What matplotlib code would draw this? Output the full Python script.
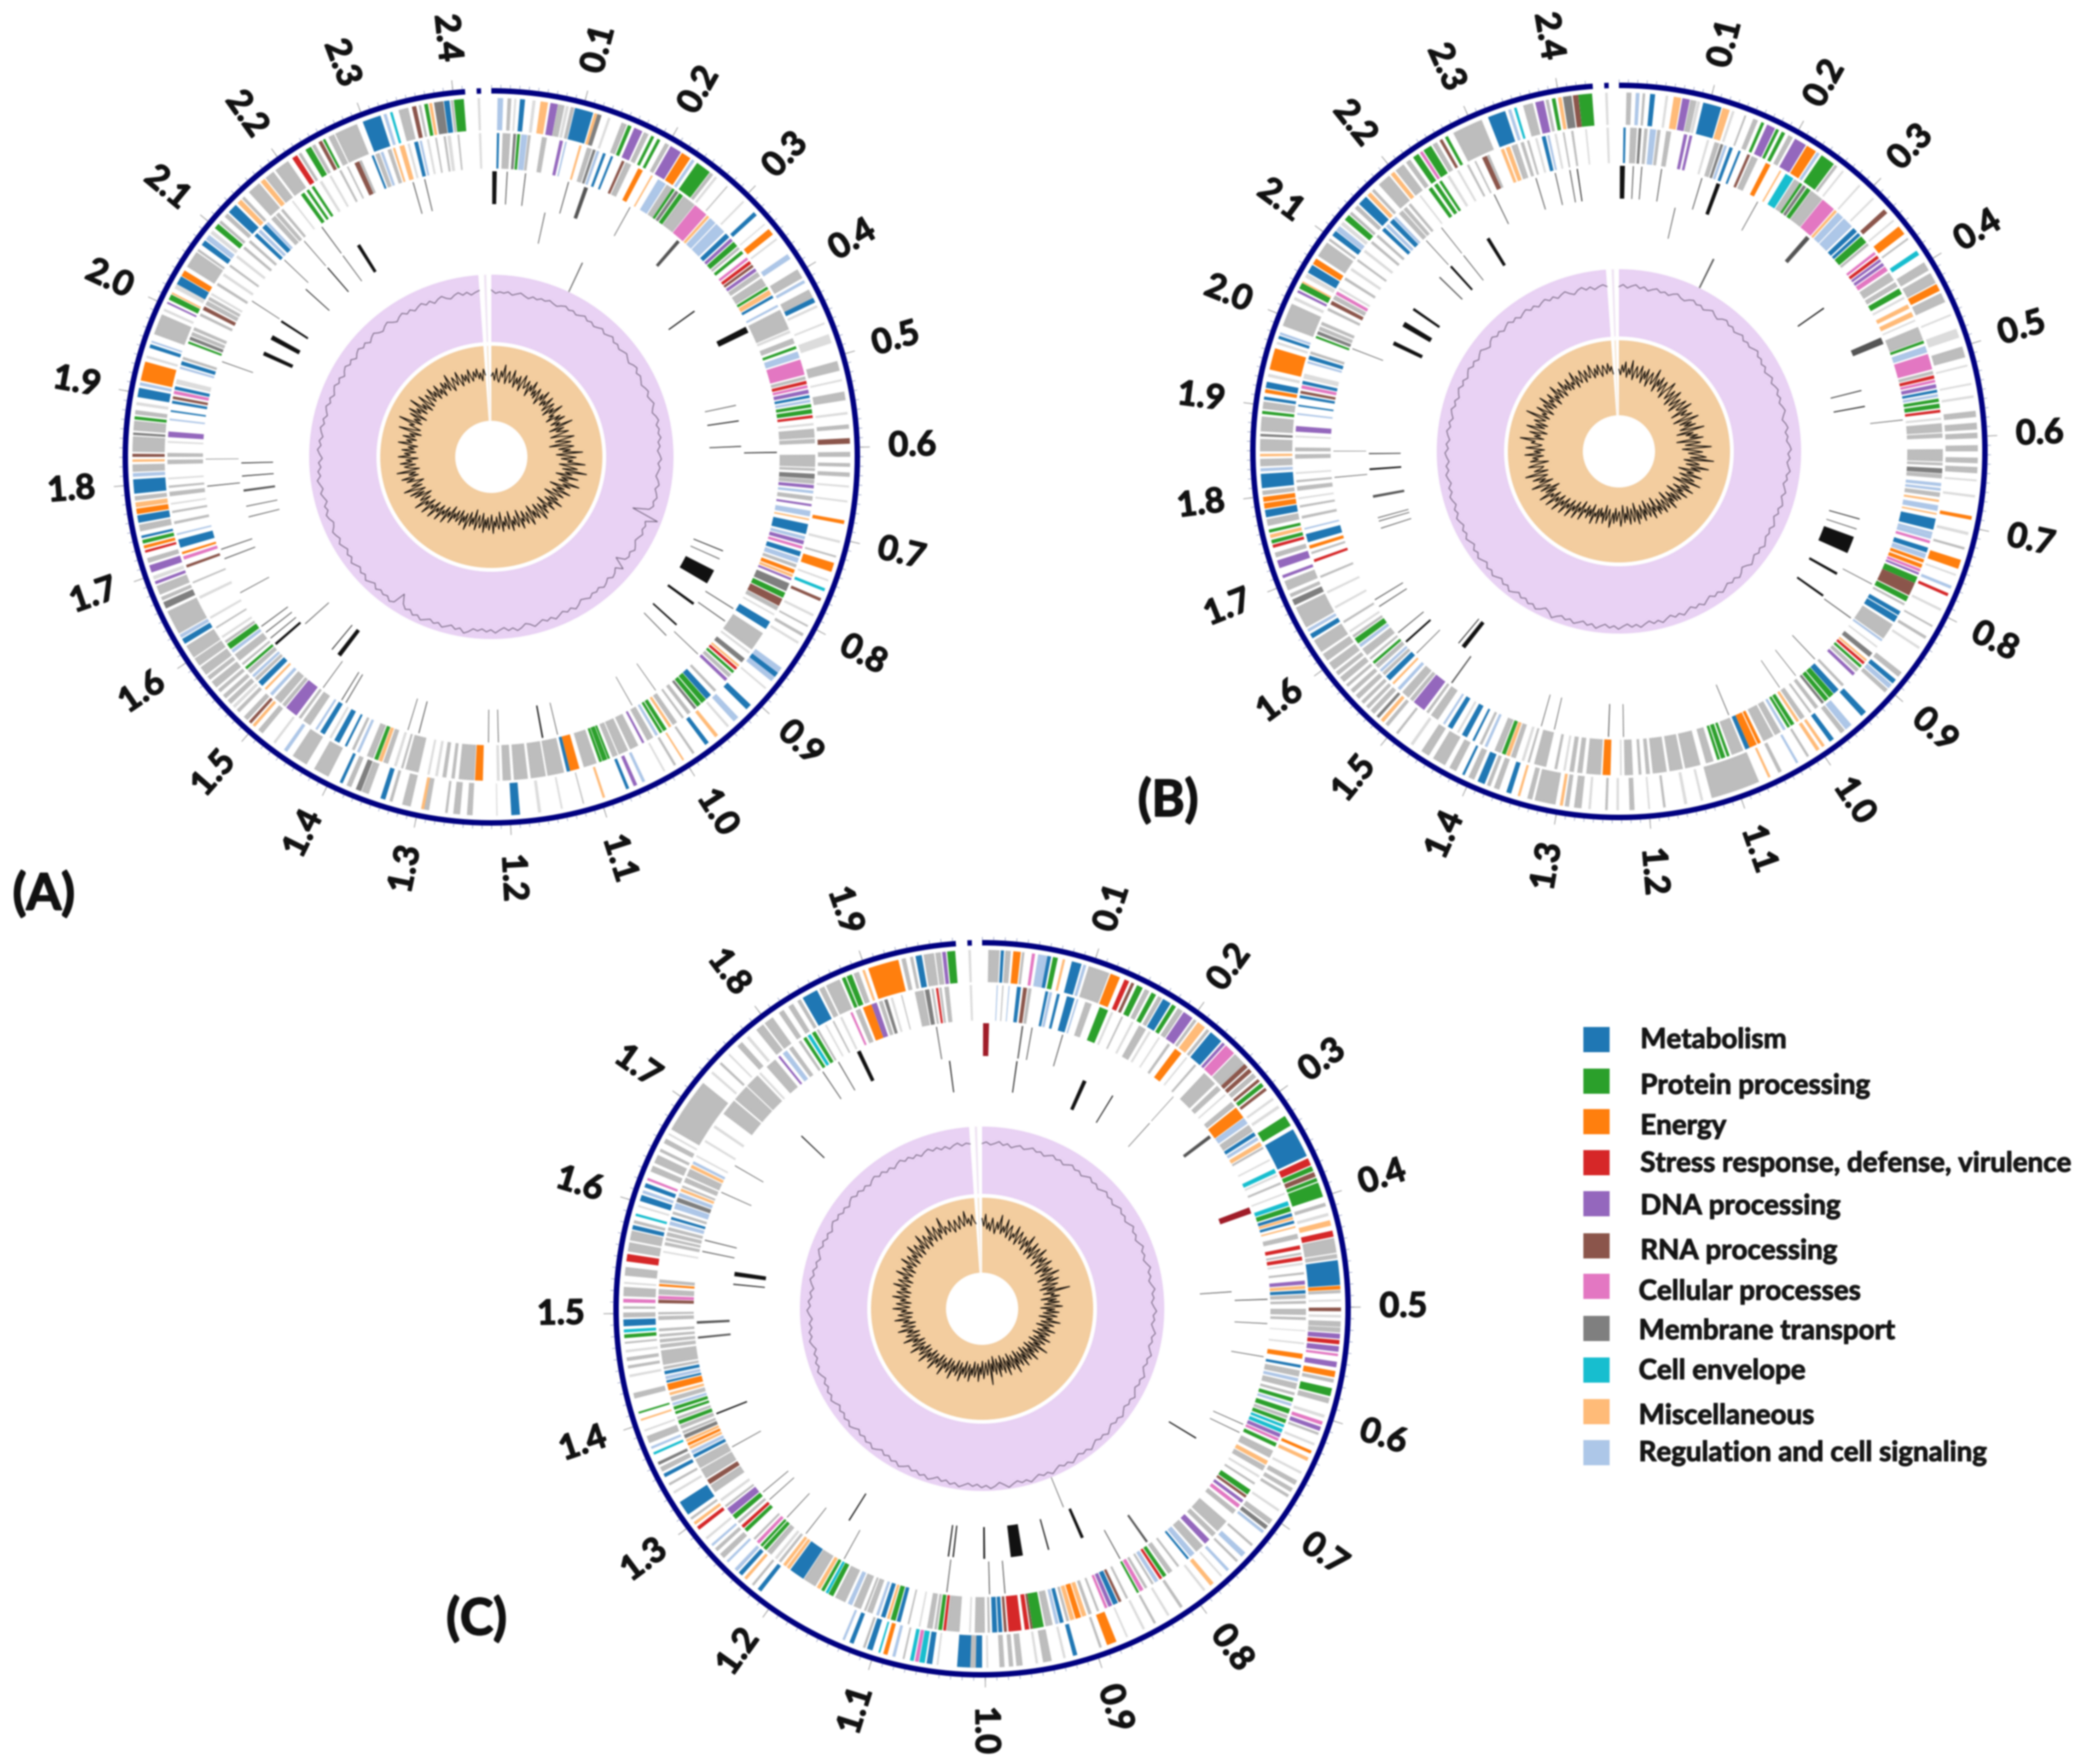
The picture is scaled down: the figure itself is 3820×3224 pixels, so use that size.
import numpy as np
import matplotlib
matplotlib.use('Agg')
import matplotlib.pyplot as plt
import matplotlib.patheffects as pe
from matplotlib.patches import Rectangle

plt.rcParams['font.family'] = ['Lato', 'DejaVu Sans']

W, H = 3820, 3224
END = 355.9      # map closes here, the rest is the gap at 12 o'clock

legend_names = ['Metabolism', 'Protein processing', 'Energy', 'Stress response, defense, virulence',
                'DNA processing', 'RNA processing', 'Cellular processes', 'Membrane transport',
                'Cell envelope', 'Miscellaneous', 'Regulation and cell signaling']
legend_keys = ['b', 'g', 'o', 'r', 'p', 'n', 'k', 'm', 'c', 'y', 'l']
colors = {'b': '#1f77b4', 'g': '#2ca02c', 'o': '#ff7f0e', 'r': '#d62728', 'p': '#9467bd', 'n': '#8c564b',
          'k': '#e377c2', 'm': '#7f7f7f', 'c': '#17becf', 'y': '#ffbb78', 'l': '#aec7e8', 'h': '#bdbdbd',
          't': '#dcdcdc', 'K': '#111111', 'G': '#555555', 'R': '#a01c28'}

a_mb = [0.1, 0.2, 0.3, 0.4, 0.5, 0.6, 0.7, 0.8, 0.9, 1.0, 1.1, 1.2, 1.3, 1.4, 1.5, 1.6, 1.7, 1.8, 1.9, 2.0, 2.1, 2.2, 2.3, 2.4]
b_mb = a_mb
c_mb = a_mb[:19]
a_deg_per_mb = 147.5
b_deg_per_mb = 146.0
c_deg_per_mb = 179.5

# gene rings: (map degree, width in degrees, functional class)
a_outer = [(1.0,.9,'l'),(2.6,.6,'h'),(3.7,.3,'t'),(4.6,.8,'b'),(6.6,.5,'t'),(7.9,1.2,'y'),(9.5,1.2,'p'),(10.7,1.1,'h'),(12,.5,'t'),(12.8,.6,'h'),
 (13.5,3,'b'),(16.7,.5,'y'),(17.2,.7,'m'),(19,.4,'t'),(21.3,.9,'h'),(22.4,.6,'g'),(23.5,1.4,'p'),(25.2,.8,'h'),(26.5,.5,'g'),(27.6,.5,'g'),(29,.7,'h'),
 (30,1.9,'p'),(32.1,1.6,'o'),(34,.5,'l'),(35,2.5,'g'),(37.6,.6,'h'),(38.6,.4,'t'),(41,.2,'h'),(44.5,.3,'t'),(47,.7,'b'),(49.5,.2,'t'),(50.6,1.1,'o'),(52.5,.3,'t'),
 (55.6,.9,'l'),(58.5,1.6,'h'),(60.5,.5,'l'),(62.2,1.5,'h'),(63.7,.8,'b'),(65,.4,'t'),(68,.3,'t'),(70,1.5,'t'),(74.5,1.6,'h'),(77.5,.3,'t'),(79.5,1.4,'h'),
 (82.8,.4,'t'),(84.8,.7,'h'),(87,.9,'n'),(89.2,.8,'h'),(91,.6,'h'),(92.5,.7,'h'),(94.6,.3,'t'),(97,.3,'t'),(100.2,.6,'o'),(103.5,.4,'t'),(106,.3,'h'),(107.2,1.5,'o'),
 (110,.3,'t'),(111.5,.5,'c'),(113.2,.5,'n'),(116,.4,'t'),(118,.3,'h'),(119.5,.5,'h'),(121,.4,'t'),(126,2.7,'l'),(127,.8,'b'),(130,.3,'t'),(133.7,1,'b'),(136.5,1,'l'),
 (138.5,.4,'t'),(140.8,.6,'y'),(142.7,.7,'b'),(145.5,.4,'h'),(147.5,.3,'y'),(149,.4,'h'),(151,.3,'t'),(154.6,.5,'l'),(156,.6,'p'),(157.4,.5,'b'),(161.5,.4,'y'),
 (165,.2,'h'),(168.5,.3,'t'),(172,.5,'t'),(175.4,1.4,'b'),(179,.2,'t'),(183,.9,'h'),(185,1.1,'h'),(187,.4,'h'),(190,1.1,'h'),(190.8,.5,'y'),(193,1.4,'h'),(196,.5,'h'),(197.2,.8,'b'),
 (200,1.2,'h'),(201.3,.9,'m'),(203,.8,'h'),(204.5,.5,'b'),(207,2.6,'h'),(211,2.6,'h'),(214.7,.6,'l'),(217,.4,'t'),(219.6,.9,'h'),(221.2,.5,'y'),(222,.5,'n'),(222.8,.8,'h'),
 (224.6,.6,'h'),(225.6,.5,'t'),(226.5,.8,'h'),(227.7,.7,'h'),(229,.6,'h'),(230,1.2,'h'),(231.6,.7,'h'),(232.6,1.5,'h'),(234.4,1.4,'h'),(236,2.2,'h'),(238.6,.9,'b'),(239.7,.6,'l'),
 (240.5,4,'h'),(245,1.1,'m'),(246.4,.6,'h'),(247.4,1.5,'h'),(249.2,.5,'p'),(250,.6,'t'),(251.2,1.2,'p'),(252.8,.8,'h'),(254.5,.4,'r'),(255.2,.5,'o'),(256,.6,'g'),(256.9,.4,'b'),
 (258,1.1,'h'),(259.4,1.2,'b'),(260.8,.9,'o'),(261.9,.8,'y'),(263,.7,'h'),(264.1,2.3,'b'),(266.8,.6,'l'),(267.6,1.2,'h'),(269.2,.4,'y'),(270,.5,'n'),(270.8,2.5,'h'),(273.5,.4,'m'),
 (274.2,1.6,'h'),(276,.5,'g'),(276.8,.7,'h'),(278.3,.5,'t'),(279.6,1.5,'b'),(281.5,.5,'l'),(282.3,3.1,'o'),(286,.4,'t'),(287.7,.6,'b'),(288.6,.3,'l'),(290,3.4,'h'),(294,.4,'t'),(295.3,.3,'p'),
 (296,.9,'g'),(297,.3,'y'),(298,.9,'t'),(298.8,1.4,'b'),(300.3,1,'o'),(302,2.8,'h'),(305,.4,'h'),(306.2,.9,'b'),(307.3,.9,'l'),(308.5,.6,'t'),(309.6,.9,'g'),(310.7,.5,'h'),(312,.7,'h'),
 (313,1.6,'b'),(315,.8,'y'),(316,.5,'h'),(317.5,2.2,'h'),(320,.8,'y'),(321,1.6,'h'),(323,2.5,'h'),(326.3,.9,'r'),(327.5,.5,'h'),(328.8,1,'g'),(330,.6,'h'),(331.2,.6,'n'),(332,.4,'g'),
 (333,1,'h'),(334.2,3.8,'h'),(339,3,'b'),(342.5,.5,'l'),(343.6,.4,'c'),(345,1.6,'h'),(347.2,.7,'n'),(348.3,.4,'h'),(349.2,.6,'g'),(350,.5,'y'),(350.8,1.5,'m'),(352.4,.9,'b'),(353.5,.4,'h'),(354,1.6,'g')]
a_inner = [(1,.4,'b'),(2,1.4,'h'),(3.9,.5,'m'),(4.6,.5,'g'),(5.3,1.1,'l'),(6.5,.5,'h'),(9,.9,'h'),(12.2,.6,'p'),(13.2,.3,'l'),(15.8,.4,'y'),(17.2,.9,'h'),(18.3,.5,'m'),(19,.5,'l'),
 (20.2,.5,'b'),(21.7,.4,'b'),(23.8,.5,'n'),(24.5,1.1,'h'),(27,.9,'o'),(29.6,.3,'y'),(31,1.6,'l'),(32.8,1.2,'h'),(34,.5,'g'),(34.7,.6,'m'),(35.5,.8,'g'),(36.4,2.5,'h'),(39,2.6,'k'),
 (41.8,.5,'y'),(42.5,1.3,'l'),(44,2,'l'),(46.4,.9,'b'),(47.6,.6,'p'),(48.4,1,'g'),(49.6,.5,'h'),(50.5,.6,'g'),(52,.5,'k'),(52.8,.6,'r'),(53.6,.5,'n'),(54.4,.6,'p'),(55.2,.9,'h'),(56.5,1.6,'h'),
 (58.3,.5,'g'),(59,.9,'y'),(60.1,.5,'b'),(62,.4,'l'),(63,3.8,'h'),(67,.5,'t'),(68.5,1,'h'),(70,.5,'g'),(71,1.2,'l'),(72.5,2.8,'k'),(75.6,.6,'h'),(76.4,.6,'r'),(77.2,.5,'k'),(78,.7,'p'),(79,.5,'b'),
 (79.8,.5,'l'),(80.6,.6,'g'),(81.5,.8,'g'),(82.6,.5,'r'),(84,.4,'t'),(85,1.6,'h'),(86.8,.8,'h'),(89.6,2.2,'h'),(92,.5,'h'),(93,.9,'m'),(94,.8,'h'),(95,.6,'p'),(96,.5,'l'),(97,.8,'h'),
 (98.4,.4,'p'),(99.6,1,'l'),(101,.3,'y'),(102,1.8,'b'),(104.2,.6,'l'),(105,.7,'p'),(106,.5,'k'),(107,.9,'b'),(108.2,.9,'l'),(109.4,.6,'h'),(110.4,.7,'o'),(111.3,.5,'y'),(112,.4,'p'),
 (113,1.5,'m'),(114.8,1,'g'),(116,1.4,'n'),(117.5,.8,'h'),(119,.3,'t'),(120.6,1.5,'b'),(123,3.5,'h'),(127,.4,'t'),(128.5,.9,'m'),(130,.4,'y'),(130.6,.5,'r'),(131.4,.5,'g'),(132.2,.7,'h'),(133.2,.6,'p'),
 (136,.5,'h'),(137.3,1.1,'b'),(138.5,1,'g'),(139.7,.8,'g'),(140.7,.5,'m'),(142,.7,'h'),(143.5,.4,'h'),(145,.9,'h'),(146.2,.5,'y'),(147.2,.7,'g'),(148.1,.5,'g'),(149,.5,'l'),(150,1.2,'h'),
 (151.8,.4,'p'),(153,1.6,'h'),(155,1.8,'h'),(157,1,'h'),(158.5,.4,'g'),(159,.9,'g'),(160,.5,'g'),(161,2.4,'h'),(164.2,1.7,'o'),(165.9,.6,'b'),(167,3,'h'),(170.3,2.7,'h'),(173.5,2.5,'h'),(176.5,1.5,'h'),
 (178.5,.5,'t'),(181.5,1.4,'o'),(183,2.8,'h'),(186.5,.6,'h'),(188,.7,'h'),(189.5,.5,'t'),(191,.4,'t'),(193,2.4,'h'),(195.8,.4,'h'),(197,.5,'t'),(198.6,.9,'h'),(199.7,.7,'y'),(200.5,.7,'g'),(201.4,1.2,'h'),
 (204,.5,'l'),(205,.5,'h'),(206.5,.4,'b'),(208,1,'b'),(209.6,.4,'t'),(211,.9,'b'),(212.5,.4,'l'),(214,1.5,'h'),(216,.5,'h'),(217,2.3,'p'),(219.5,.7,'h'),(220.5,1.5,'h'),(222.5,.6,'l'),
 (224,.4,'y'),(225,1,'b'),(226.3,.6,'h'),(227.1,.5,'l'),(228,.8,'h'),(229,.5,'g'),(230,.4,'h'),(231,1.4,'h'),(232.8,.6,'l'),(233.6,1.1,'g'),(234.9,.5,'h'),(236,.4,'t'),(238,.3,'h'),(240,.4,'t'),(244,.5,'t'),(247,.3,'h'),
 (250,.5,'n'),(251.5,.6,'k'),(252.5,.4,'o'),(253.7,1.5,'b'),(256,.3,'l'),(258,.5,'h'),(260,.4,'h'),(261.5,.3,'t'),(263,.8,'h'),(264.5,.4,'h'),(266,.3,'t'),(268.7,.8,'h'),(270,.7,'h'),(272.5,.3,'t'),
 (273.5,1,'p'),(276.5,.3,'l'),(278,.3,'b'),(279.5,.5,'b'),(280.3,.5,'n'),(281.2,.6,'k'),(282,.6,'b'),(283,.9,'t'),(285.8,.4,'l'),(286.5,.7,'b'),(287.5,.5,'h'),(290.5,.4,'g'),(291.2,.6,'m'),(292,.7,'h'),(293,.6,'h'),
 (295.8,.5,'h'),(297,.7,'n'),(298,.8,'h'),(299,.6,'h'),(300,.4,'t'),(302,.5,'h'),(304,.5,'t'),(306,.4,'h'),(308,.5,'t'),(310,.5,'h'),(311.5,.5,'h'),(313,.7,'b'),(314,.6,'l'),(315,.9,'b'),(316,.5,'l'),(317.2,.9,'h'),(318.3,.7,'h'),
 (319.5,.5,'h'),(322,.3,'t'),(324,.7,'g'),(325.2,.5,'g'),(326.3,.5,'g'),(328,.5,'t'),(330,.4,'t'),(332,.4,'h'),(333.5,.3,'h'),(335,.9,'n'),(335.9,.5,'h'),(338.3,.4,'b'),(339,.8,'h'),(340,.5,'l'),(341.3,.7,'h'),
 (342.3,.4,'y'),(343.5,.9,'y'),(345,.4,'t'),(346.2,.7,'b'),(347.2,.4,'l'),(348.5,.4,'t'),(350,.3,'h'),(351.5,.4,'h'),(352.2,.6,'t'),(354,.3,'h')]

b_outer = [(1.2,.8,'h'),(2.7,.6,'l'),(3.8,.4,'h'),(5,.8,'b'),(7.5,.4,'t'),(8.8,1.2,'y'),(10.2,1.2,'p'),(11.5,1,'h'),(12.6,.5,'t'),
 (13.6,3,'b'),(16.8,1.2,'y'),(18.4,.4,'t'),(20.5,.3,'h'),(22,.8,'h'),(23.4,.5,'g'),(24.4,1.4,'p'),(26,.5,'g'),(27,.6,'g'),(28.2,.8,'h'),(29.4,2,'p'),(31.6,1.7,'o'),(33.5,.5,'l'),(34.4,2.4,'g'),(37,.5,'h'),(38.5,.3,'t'),
 (42,.3,'t'),(45,.3,'t'),(47.6,.8,'n'),(49.8,.3,'t'),(51.2,1.5,'o'),(53.5,.3,'h'),(56,.8,'c'),(58.2,1.5,'h'),(60.2,1.8,'h'),(62.2,1.2,'o'),(63.8,1.6,'h'),(67.5,.3,'t'),(70,1.5,'t'),(73,1.8,'h'),(76,.3,'t'),
 (79,.3,'t'),(81,.4,'t'),(83.5,1,'h'),(85.4,1.1,'h'),(87,.9,'h'),(89,1,'h'),(91,.9,'h'),(92.5,1,'h'),(94.5,.3,'t'),(97,.4,'t'),(100.4,.6,'o'),(103,.5,'t'),(105.5,.4,'h'),(107.6,1.5,'o'),(110,.3,'t'),(112,.5,'l'),(113.3,.5,'r'),(116,.4,'t'),
 (119,.3,'h'),(121,.5,'h'),(123,.4,'t'),(128,.9,'h'),(129.5,.8,'b'),(130.5,.8,'l'),(131.5,.7,'h'),(136.5,1,'b'),(139.6,1.2,'l'),(141,.8,'h'),(143.2,.8,'b'),(145,.5,'y'),(146,.6,'y'),(148,.4,'h'),(150,.4,'l'),(153,.6,'h'),(155,.4,'y'),
 (157,8,'h'),(166.4,.4,'t'),(169,.5,'t'),(172.5,.4,'h'),(175,.3,'t'),(177.5,.8,'h'),(180,.4,'t'),(181.8,.4,'h'),(184.5,.4,'t'),(186,1.2,'h'),(188,.7,'h'),(189,.5,'y'),(190.2,3.4,'h'),(194,.8,'h'),(196,.4,'y'),(197.5,.8,'b'),(199.5,.9,'h'),
 (201,.6,'h'),(202,1.2,'b'),(203.8,1,'h'),(205.5,.4,'b'),(207,1.2,'h'),(209,2.2,'h'),(212,1.4,'h'),(215,.5,'t'),(218,.4,'h'),(220,.6,'h'),(221,.6,'y'),(222,.5,'m'),(223,.8,'h'),(224.2,.6,'h'),(225.3,.6,'h'),(226.4,.8,'h'),(227.7,.7,'h'),
 (229,.5,'h'),(230,1,'h'),(231.4,.7,'h'),(232.5,1.4,'h'),(234.3,1.3,'h'),(236,2.2,'h'),(238.6,.8,'b'),(239.8,.5,'l'),(240.6,3.6,'h'),(244.6,1,'m'),(246,.6,'h'),(247.2,1.6,'h'),(249.3,.5,'p'),(251,1.3,'p'),(252.8,.8,'h'),(254.4,.5,'r'),
 (255.1,.6,'g'),(256,.6,'y'),(256.9,.5,'g'),(258,1.1,'h'),(259.4,1.2,'b'),(260.8,.9,'o'),(261.9,.8,'o'),(263,.7,'h'),(264.1,2.3,'b'),(266.8,.5,'l'),(267.6,1.2,'h'),(269.2,.4,'y'),(270,2,'h'),(272.4,.4,'m'),(273.2,2.4,'h'),(276,.5,'g'),(276.8,1.2,'h'),
 (278.3,.5,'b'),(279.4,.6,'o'),(280.2,1,'b'),(282,.5,'t'),(283.2,3.5,'o'),(287.4,.4,'t'),(288.3,.5,'b'),(289,.4,'l'),(290.5,3.8,'h'),(295,.5,'t'),(296.3,.4,'p'),(297,1,'g'),(298,.3,'y'),(299,.7,'t'),(299.9,1.4,'b'),(301.5,1,'o'),(303,2.6,'h'),
 (306,.4,'h'),(307,.9,'b'),(308,.9,'l'),(309.2,.6,'t'),(310.2,1,'g'),(311.4,.5,'h'),(312.6,.7,'h'),(313.6,1.6,'b'),(315.5,.7,'y'),(316.5,.5,'h'),(318,2.2,'h'),(320.5,.7,'y'),(321.5,1.6,'h'),(323.6,.8,'h'),(325,1,'g'),(326.3,.5,'k'),(327,1.4,'g'),
 (328.7,.8,'h'),(330,.5,'n'),(331,.5,'g'),(332.5,5,'h'),(338.6,2.9,'b'),(342,.5,'l'),(343,.4,'c'),(344.5,1.6,'h'),(346.5,1.4,'p'),(348.2,.5,'h'),(349.2,.6,'g'),(350.2,.6,'y'),(351,1.4,'m'),(352.6,.9,'n'),(353.5,2.2,'g')]
b_inner = [(.8,.4,'b'),(2,1.2,'h'),(3.5,.5,'m'),(4.5,.6,'h'),(5.5,1.1,'l'),(6.8,.6,'h'),(8.4,.9,'h'),(11.6,.6,'p'),(12.6,.5,'p'),(15.8,.4,'t'),(17.2,.9,'h'),(18.3,.5,'m'),(19,.5,'l'),
 (20,.6,'b'),(21.7,.4,'b'),(23.4,.5,'n'),(24.2,1.2,'h'),(27,.9,'o'),(29.8,.3,'y'),(31,1.6,'c'),(32.8,1.2,'h'),(34,.5,'g'),(34.7,.6,'m'),(35.5,.8,'g'),(36.4,2.5,'h'),(39,2.6,'k'),
 (41.8,.5,'y'),(42.5,1.3,'l'),(44,2,'l'),(46.4,.9,'b'),(47.6,.6,'b'),(48.4,1.4,'g'),(50,.5,'h'),(52,.5,'k'),(52.8,.6,'r'),(53.6,.5,'p'),(54.4,.6,'p'),(55.2,.9,'k'),(56.5,1.6,'h'),(58.5,.9,'h'),
 (59.8,1.1,'g'),(61.5,.4,'t'),(63,.8,'y'),(64.5,.9,'y'),(66,.3,'t'),(67.4,2.5,'h'),(70,.5,'g'),(71,1.2,'l'),(72.5,2.8,'k'),(75.6,.6,'h'),(76.4,.6,'r'),(77.2,.5,'k'),(78,.7,'p'),(79,.5,'b'),
 (79.8,.5,'l'),(80.6,.6,'g'),(81.5,.8,'g'),(82.6,.5,'r'),(84,.4,'t'),(85,1.6,'h'),(86.8,.8,'h'),(89.6,2.2,'h'),(92,.5,'h'),(93,.9,'m'),(94,.8,'h'),(95.6,.6,'l'),(96.5,.5,'l'),(97.3,.8,'h'),
 (98.6,.4,'y'),(99.6,1,'l'),(101,.3,'y'),(102,2,'b'),(104.4,.6,'l'),(105,.7,'l'),(106,.5,'k'),(107.3,.9,'b'),(108.4,.9,'l'),(109.5,.6,'o'),(110.4,.7,'o'),(111.3,.5,'k'),(112,.4,'p'),
 (112.8,1.2,'g'),(114,2.4,'n'),(116.6,1,'g'),(118,.4,'h'),(119.6,.8,'b'),(120.6,1.2,'b'),(122.3,3,'h'),(125.5,.4,'l'),(127,.3,'t'),(128.5,.9,'m'),(130,.4,'y'),(130.6,.5,'r'),(131.4,.5,'g'),(132.2,.7,'h'),(133.2,.6,'p'),
 (136,.5,'h'),(137.3,1.1,'b'),(138.5,1,'g'),(139.7,.8,'g'),(140.7,.5,'m'),(142,.7,'h'),(143.5,.4,'h'),(145,.9,'h'),(146.2,.5,'y'),(147.2,.7,'g'),(148.1,.5,'g'),(149,.5,'l'),(150,1.2,'h'),(151.5,2,'h'),
 (154,.6,'o'),(154.8,1.4,'o'),(156.2,.8,'b'),(157.4,2.2,'h'),(160,.5,'g'),(160.8,.8,'g'),(161.8,.5,'g'),(163,1.4,'h'),(165.4,2.8,'h'),(168.6,2.4,'h'),(171.5,2.5,'h'),(174.5,.7,'h'),(176,.5,'h'),(177.5,1.5,'h'),(179.5,.3,'t'),
 (181.5,1.4,'o'),(183.2,2.6,'h'),(186.5,.9,'h'),(188,.8,'h'),(189.5,.4,'t'),(191,.5,'h'),(193,2.2,'h'),(196,.4,'h'),(197,.5,'t'),(198.6,.9,'h'),(199.7,.7,'y'),(200.5,.7,'g'),(201.4,1.2,'h'),
 (204,.5,'l'),(205,.5,'h'),(206.5,.4,'b'),(208,1,'b'),(209.6,.4,'t'),(211,.9,'b'),(212.5,.4,'l'),(214,1.5,'h'),(216,.5,'h'),(217,2.3,'p'),(219.5,.7,'h'),(220.5,1.5,'h'),(222.5,.6,'l'),
 (224,.4,'y'),(225,1,'b'),(226.3,.6,'h'),(227.1,.5,'l'),(228,.8,'h'),(229,.5,'g'),(230,.4,'h'),(231,1.4,'h'),(232.8,.6,'l'),(233.6,1.1,'g'),(234.9,.5,'h'),(236,.4,'t'),(238,.4,'h'),(241,.4,'t'),(244,.4,'t'),(247,.4,'h'),
 (250,.5,'r'),(251.5,.4,'h'),(252.5,.6,'o'),(253.7,1.5,'b'),(256,.3,'l'),(258,.5,'h'),(260,.4,'h'),(261.5,.3,'t'),(263,.8,'h'),(264.5,.4,'h'),(266,.3,'t'),(268.7,.8,'h'),(270,.7,'h'),(272.5,.3,'t'),
 (273.5,1,'p'),(276.5,.3,'l'),(278,.3,'b'),(279.5,.5,'b'),(280.3,.5,'n'),(281.2,.6,'k'),(282,.6,'b'),(283,.9,'t'),(285.8,.4,'l'),(286.5,.7,'b'),(287.5,.5,'h'),(290.5,.4,'g'),(291.2,.6,'m'),(292,.7,'h'),(293,.6,'h'),
 (295.8,.5,'h'),(297,.7,'n'),(298,.8,'h'),(299,.6,'k'),(300,.4,'t'),(302,.5,'h'),(304,.5,'t'),(306,.4,'h'),(308,.5,'t'),(310,.5,'h'),(311.5,.5,'h'),(313,.7,'b'),(314,.6,'l'),(315,.9,'b'),(316,.5,'l'),(317.2,.9,'h'),(318.3,.7,'h'),
 (319.5,.5,'h'),(322,.3,'t'),(324,.7,'g'),(325.2,.7,'g'),(326.3,.5,'g'),(328,.5,'t'),(330,.4,'t'),(332,.4,'h'),(333.5,.3,'h'),(335,.9,'n'),(335.9,.5,'h'),(338.6,.6,'y'),(339.5,.8,'y'),(340.6,.7,'h'),(341.3,.4,'h'),
 (342.3,.6,'h'),(343.5,.4,'h'),(345,.4,'t'),(346.2,.7,'b'),(347.2,.4,'l'),(348.5,.4,'t'),(350,.3,'h'),(351.5,.4,'h'),(354,.3,'t')]

c_outer = [(1,1.8,'h'),(3,.5,'b'),(3.7,.9,'h'),(5,1.2,'o'),(6.4,.4,'h'),(8,.5,'k'),(9,1.5,'l'),(10.5,.6,'b'),(11.4,.8,'g'),(13,.4,'y'),(14.5,1.6,'b'),(16.4,.5,'l'),(17.3,3.5,'h'),(21,1.6,'o'),(23.4,.8,'r'),(24.6,.5,'n'),
 (25.6,1,'g'),(27,.8,'h'),(28.2,.8,'g'),(29.4,.7,'h'),(30.3,1.4,'b'),(32,.7,'g'),(33.1,.9,'h'),(34.2,1.7,'p'),(36.2,.5,'h'),(37,1.4,'y'),(38.8,.5,'h'),(39.6,2.2,'b'),(42.1,.5,'p'),(42.8,1.8,'k'),(44.8,3,'h'),(47,.7,'n'),(48,.7,'n'),
 (49,.8,'h'),(50.2,.5,'n'),(51,.7,'g'),(52,.5,'n'),(54,.4,'t'),(55.5,.5,'t'),(57.5,1.8,'g'),(60,4.8,'b'),(65.2,1.2,'r'),(66.6,.8,'g'),(67.6,.8,'n'),(68.6,.6,'g'),(69.4,2.4,'g'),(72.8,.6,'h'),(74.5,.5,'t'),(75.7,.9,'y'),(77.4,1,'r'),
 (78.6,2.4,'h'),(81.2,.7,'h'),(82.2,4,'b'),(86.3,.6,'o'),(87,.5,'h'),(88.5,.3,'t'),(89.8,.6,'n'),(91,.4,'t'),(92,.9,'h'),(93,.8,'h'),(94,.8,'p'),(95,.7,'r'),(96,.9,'p'),(97.2,.4,'k'),(98.5,.9,'p'),(100,1,'o'),(101.3,.6,'h'),(102.8,1.3,'g'),(104.4,.9,'h'),
 (107.2,.5,'t'),(108.3,.6,'k'),(109.2,.7,'p'),(110.2,.4,'h'),(112,.4,'t'),(113.3,.5,'o'),(114.5,.6,'y'),(117,.4,'t'),(118.6,.8,'h'),(120,.7,'h'),(121.2,.5,'h'),(124,.4,'t'),(126,.9,'h'),(127.2,.7,'m'),(128.2,.5,'l'),(131,.4,'h'),(132.8,.9,'l'),
 (134.5,.4,'h'),(136.5,.5,'l'),(138,.3,'t'),(139.8,.7,'y'),(141.5,.4,'t'),(146,.5,'h'),(148.5,.4,'t'),(151,.4,'h'),(153,.4,'t'),(156,.3,'t'),(158,1.6,'o'),(160.5,.4,'h'),(164.6,.7,'b'),(166.5,.4,'t'),(168.8,1.4,'h'),(171,.4,'t'),(173.5,1,'h'),
 (175,.7,'h'),(176.4,.8,'h'),(179,.3,'t'),(180,4,'b'),(181,.9,'h'),(187,.3,'t'),(188,.9,'b'),(189.2,.9,'c'),(190.2,.6,'k'),(191,.6,'c'),(192.5,.3,'h'),(194,.5,'l'),(195.3,.7,'o'),(196.5,.3,'c'),(197.8,.9,'b'),(199,.4,'h'),(201,.7,'b'),(202.5,.4,'l'),
 (218,.7,'b'),(219.5,.4,'h'),(221,.5,'y'),(222,.7,'b'),(223,.6,'l'),(225,.4,'l'),(226,.9,'h'),(227.5,.6,'h'),(228.6,.4,'l'),(230,.4,'t'),(232,.6,'r'),(233,.5,'y'),(234,.4,'h'),(235,2.4,'b'),(239,.4,'t'),(240.5,.4,'h'),(242,.6,'b'),(243,.8,'h'),
 (244.2,.5,'m'),(246,.4,'c'),(247,.4,'l'),(248,1.2,'h'),(250,.3,'t'),(251.8,.3,'y'),(253,.3,'g'),(255.5,.9,'h'),(259,.4,'t'),(260.4,.5,'h'),(261.6,.6,'h'),(263,.4,'t'),(264.4,.3,'h'),(265.3,.6,'g'),(266.2,.5,'c'),(267.2,1.1,'b'),(268.6,.8,'h'),
 (270,.4,'h'),(271,.6,'k'),(272,1.5,'h'),(274,.3,'t'),(275.3,1.4,'h'),(277.6,1.2,'r'),(279.2,1.5,'h'),(281,1.6,'h'),(282.8,.7,'b'),(283.8,.5,'h'),(285,.4,'c'),(286.5,.3,'t'),(287.5,1,'b'),(288.8,.5,'l'),(289.8,.7,'b'),(291,.4,'k'),(292.5,1,'h'),
 (294,1.4,'h'),(296,.5,'h'),(297.5,.8,'h'),(299,.3,'t'),(300,9,'h'),(311,.4,'t'),(313,.4,'h'),(315,.3,'t'),(317,1,'h'),(319,.5,'t'),(321,1.4,'h'),(322.7,1.6,'h'),(325.5,.9,'h'),(327.3,.9,'h'),(329,.6,'h'),(330,2.6,'b'),(333,.9,'h'),(334.2,2.4,'h'),
 (337,.6,'g'),(337.8,.9,'g'),(339,.9,'h'),(340.5,.4,'y'),(341.5,5,'o'),(347,.7,'h'),(348.4,.5,'h'),(349.3,1,'b'),(350.6,1.7,'h'),(352.5,.9,'h'),(353.6,.6,'p'),(354.4,1.3,'g')]
c_inner = [(2.6,.2,'l'),(3.6,.2,'h'),(4.7,.2,'l'),(6.2,.7,'b'),(7.3,.7,'n'),(8.2,.6,'h'),(11.3,.5,'b'),(12,.5,'l'),(13.4,.5,'b'),(15.2,1.4,'b'),(17,.3,'l'),(18.6,1.2,'h'),(21.3,1.6,'g'),(23.5,.4,'t'),(25.5,.3,'h'),
 (27.5,.4,'t'),(29,1.4,'h'),(31,.4,'t'),(33,.3,'t'),(35,.5,'h'),(36.6,1.4,'o'),(39,.3,'t'),(41,.4,'h'),(43.3,2.7,'h'),(46.5,1,'h'),(48.5,.3,'t'),(50.3,1,'h'),(51.6,2.2,'o'),(53.9,1.2,'l'),(55.4,1.4,'h'),(57,.7,'b'),(58,.6,'l'),
 (59,.8,'y'),(60,.4,'h'),(62.5,.3,'t'),(64.4,.8,'c'),(65.5,.4,'t'),(67,.4,'h'),(69,.3,'t'),(70.6,.8,'c'),(71.6,.9,'g'),(72.8,.6,'b'),(73.5,.5,'y'),(74.2,.5,'b'),(75.2,.3,'y'),(76.6,.9,'h'),(78.7,.7,'r'),(80,.4,'h'),(80.7,.7,'r'),(81.8,.4,'t'),
 (83.5,.4,'h'),(85,.7,'p'),(85.9,.6,'y'),(86.7,.6,'b'),(87.5,.7,'h'),(88.6,.5,'h'),(90,1.1,'h'),(91.5,.5,'h'),(93.8,.2,'t'),(96,.3,'t'),(98,.9,'o'),(100,.5,'b'),(101,1.1,'h'),(102.4,.6,'l'),(103.3,1.1,'h'),(105,.5,'h'),(106,.7,'g'),(107,.5,'l'),
 (108,.9,'g'),(109.2,.6,'h'),(110,.7,'g'),(111,.5,'c'),(111.8,.7,'c'),(112.7,.7,'p'),(113.6,.5,'k'),(114.5,.7,'g'),(116,1.4,'h'),(118,.8,'y'),(119,1,'h'),(121,.4,'t'),(122.5,.4,'h'),(124,1,'g'),(125.2,.5,'n'),(126.2,.6,'p'),(127.2,.7,'k'),(128.4,.9,'h'),
 (131,2.4,'h'),(133.8,.9,'h'),(135.4,1.1,'p'),(137,1.6,'h'),(139,1,'l'),(140.3,.4,'b'),(142.5,.4,'h'),(144,.9,'h'),(145.3,.7,'g'),(146.2,.5,'r'),(147,.7,'l'),(148,.4,'h'),(149.3,.5,'h'),(150.1,.7,'k'),(151,.4,'g'),(153.2,.4,'h'),(154.5,.5,'n'),
 (155.2,.9,'b'),(156.3,.7,'p'),(157.2,.5,'k'),(158.8,.4,'h'),(160.2,.6,'h'),(161.2,.8,'y'),(162.2,1,'o'),(163.4,.8,'y'),(164.4,.5,'h'),(165.4,.7,'b'),(166.3,.6,'l'),(167.4,1.3,'h'),(169,2,'g'),(171,.4,'n'),(171.6,.8,'r'),(173,2.3,'r'),(175.6,.5,'n'),
 (176.4,.7,'b'),(177.3,.9,'b'),(178.6,.4,'h'),(179.5,1.8,'h'),(182,.3,'t'),(184,2.3,'h'),(186.4,.5,'r'),(187.1,.7,'g'),(188,.5,'h'),(188.8,1,'h'),(191,.3,'t'),(193,.3,'h'),(194.6,.7,'b'),(195.5,.9,'g'),(196.6,.5,'y'),(197.4,.8,'b'),(198.6,.5,'l'),(199.8,1,'h'),
 (201,.4,'h'),(202,1.4,'h'),(203.7,.8,'l'),(205,2,'h'),(207.4,.9,'g'),(208.4,.5,'c'),(209.2,.6,'g'),(210,.7,'y'),(211,2.4,'h'),(213.5,2.8,'b'),(216.5,.6,'y'),(217.3,.6,'y'),(218.4,.5,'h'),(219.3,.5,'t'),(220.6,1,'h'),(221.8,.7,'g'),(222.7,.5,'g'),
 (223.5,.6,'k'),(224.5,.4,'h'),(226.5,.7,'g'),(227.4,.6,'r'),(228.5,.5,'h'),(229.5,.9,'g'),(230.6,1.3,'p'),(232.2,.4,'h'),(233.5,.5,'t'),(235.5,1.5,'h'),(237.2,.9,'n'),(238.4,1.9,'h'),(240.5,1.8,'h'),(242.6,.6,'b'),(243.4,.6,'l'),(244.3,.5,'y'),(245,.5,'o'),
 (245.7,.5,'y'),(246.4,.7,'m'),(247.3,.5,'h'),(248.2,.7,'h'),(249.1,.7,'g'),(250,.5,'h'),(251,.5,'g'),(251.8,.6,'g'),(252.6,.5,'l'),(253.4,.8,'h'),(254.5,.5,'y'),(255.4,1.2,'o'),(256.8,.4,'b'),(257.4,.6,'l'),(258.3,.6,'b'),(259.2,.5,'h'),(260,2.6,'h'),
 (263,.7,'h'),(264,.6,'h'),(265,.5,'h'),(266,.5,'h'),(268,.7,'h'),(269,.4,'h'),(271,.6,'n'),(271.7,.6,'k'),(272.5,1,'h'),(274,.4,'o'),(274.6,.6,'h'),(280,.3,'t'),(281.3,.6,'h'),(282.2,.5,'h'),(283,.7,'h'),(284,.6,'h'),(285,.7,'l'),(286,.5,'b'),(287,.5,'h'),
 (288,1.1,'l'),(289.3,.8,'m'),(290.3,.7,'l'),(291.3,.5,'y'),(292,.4,'h'),(293,.9,'h'),(294.2,1.4,'h'),(295.8,.6,'y'),(296.6,.5,'l'),(298,.3,'t'),(301,.4,'t'),(304,.5,'t'),(307,3,'h'),(310.3,3,'h'),(313.5,2.6,'h'),(316.5,.4,'t'),(318.3,2,'h'),(321,.4,'p'),
 (322,.9,'l'),(323.4,.8,'h'),(325.5,.5,'h'),(326.5,.6,'g'),(327.4,.6,'c'),(328.3,.7,'g'),(329.3,.4,'h'),(331,.3,'t'),(332.5,.3,'h'),(334,.4,'t'),(336,.4,'k'),(337,.9,'h'),(338.4,1.6,'o'),(340,1,'p'),(341.4,.7,'h'),(342.4,.6,'m'),(343.6,.4,'t'),(345.5,.2,'h'),
 (348,1.6,'h'),(349.8,.8,'m'),(351,.4,'h'),(351.8,.4,'r'),(352.4,.4,'h'),(353.3,.8,'h')]

# feature rings: (map degree, width in degrees, colour)
a_ring3 = [(.2,.9,'K'),(3.1,.2,'G'),(6.8,.2,'G'),(15.6,.2,'G'),(19,.8,'G'),(29,.15,'G'),(40.6,.7,'G'),(62.9,1.3,'K'),(89,.2,'K'),(122,.2,'G'),(125,.2,'G'),(133.6,.15,'G'),(144.8,.12,'G'),(150.4,.12,'G'),(166.5,.15,'G'),(169.5,.3,'K'),(178.5,.15,'G'),(180.5,.15,'G'),
 (194.6,.2,'G'),(196.9,.15,'G'),(210.5,.2,'G'),(211.5,.2,'G'),(216,.15,'G'),(228.8,.5,'K'),(230.5,.2,'G'),(232,.2,'G'),(233.5,.2,'G'),(241.5,.15,'G'),(249,.2,'G'),(251,.2,'G'),(264,.2,'G'),(269.5,.1,'G'),(289.4,.15,'G'),(303,.15,'G'),(313.5,.15,'G'),(319,.15,'G'),(323.5,.2,'G'),(344,.2,'G'),(346.4,.2,'G')]
a_ring4 = [(12.3,.2,'G'),(54.2,.3,'K'),(78,.2,'G'),(81.6,.25,'K'),(87.5,.2,'K'),(112,.2,'K'),(114,.2,'G'),(117,3.4,'K'),(125.7,.6,'K'),(132,.4,'K'),(135.5,.2,'G'),(217,1,'K'),(219.5,.2,'K'),(228,.2,'G'),(256,.2,'G'),(258.5,.2,'G'),(262,.5,'G'),(265.5,.2,'K'),(268.5,.2,'K'),(294.6,.2,'K'),(294,.9,'K'),(298,1.1,'K'),(302.6,.5,'K'),(312,.2,'K'),(319,.25,'K'),(323.5,.2,'G'),(327.5,.8,'K')]
a_ring5 = [(25,.3,'G')]
b_ring3 = [(.2,1,'K'),(2.8,.2,'G'),(4.5,.2,'G'),(8.5,.2,'G'),(16.8,.2,'G'),(20,.8,'K'),(29,.15,'G'),(41,.9,'G'),(66.5,1.4,'G'),(83.6,.15,'G'),(117.6,.15,'G'),(125.6,.2,'G'),(136.6,.15,'G'),(141.7,.12,'G'),(145.7,.12,'G'),(157.3,.15,'G'),(179,.15,'G'),(182,.2,'G'),(193,.15,'G'),(195.7,.15,'G'),
 (215.7,.3,'G'),(225,.15,'G'),(228,.4,'K'),(230.5,.2,'G'),(237,.2,'G'),(238.6,.2,'G'),(270,.1,'G'),(264.7,.15,'G'),(291,.15,'G'),(317.5,.15,'G'),(321.5,.15,'G'),(334,.2,'G'),(343,.2,'G'),(347,.2,'G'),(350,.2,'G'),(351.5,.2,'K')]
b_ring4 = [(12.9,.2,'G'),(54.9,.3,'K'),(75.8,.2,'K'),(79.5,.25,'K'),(105.6,.2,'K'),(108,.2,'G'),(110,4,'K'),(119,.6,'K'),(125,.5,'K'),(218,1,'K'),(219.8,.2,'K'),(252,.2,'G'),(253.7,.2,'G'),(254.5,.2,'G'),(259.3,.6,'G'),(265.7,.4,'K'),(269.4,.2,'K'),(295.9,.2,'G'),(295.2,.9,'K'),(300,1.2,'K'),(304.4,.6,'K'),(314,.3,'G'),(317.5,.5,'K'),(321.5,.2,'G'),(328,.8,'K')]
b_ring5 = [(26,.45,'G')]
c_ring3 = [(.2,1.2,'R'),(8,.3,'G'),(10,.2,'G'),(16.3,.2,'G'),(42,.1,'G'),(52.6,.7,'G'),(69.2,1.3,'R'),(88,.2,'G'),(92.9,.15,'G'),(99.6,.15,'G'),(113.8,.15,'G'),(115.6,.15,'G'),(144.5,.45,'G'),(151,.2,'G'),(175.3,.2,'G'),(178.4,.2,'G'),(187,.2,'G'),(208.8,.15,'G'),(218,.15,'G'),(223,.15,'G'),(228,.15,'G'),(230,.15,'G'),
 (241,.15,'G'),(248.3,.3,'K'),(264,.4,'G'),(267,.5,'G'),(281.5,.2,'G'),(283.8,.2,'G'),(294,.15,'G'),(300,.15,'G'),(326,.2,'G'),(329.7,.2,'G'),(334,.8,'K'),(350.7,.2,'G')]
c_ring4 = [(7.9,.25,'K'),(23.8,.9,'K'),(31.4,.25,'K'),(42,.15,'G'),(86,.2,'G'),(121,.3,'K'),(156,.7,'K'),(164.4,.3,'K'),(170.6,2.8,'K'),(179.3,.4,'K'),(186.5,.3,'K'),(187.6,.3,'K'),(212,.3,'K'),(275.5,.25,'K'),(277.5,1,'K'),(313.6,.25,'K'),(352.4,.25,'K')]
c_ring5 = [(157.6,.2,'G')]

# G+C content trace (radius, px)
a_gc = [305,299,302,300,303,298,301,304,300,297,302,299,303,301,305,302,300,304,307,303,306,302,305,309,304,307,303,306,310,305,308,312,306,309,305,308,311,307,304,309,312,306,310,307,304,308,311,306,309,313,
 308,305,310,313,307,311,308,312,306,309,304,308,311,305,309,306,303,308,311,305,309,312,307,310,304,275,326,305,309,306,311,307,304,309,313,307,311,308,293,316,304,310,313,307,312,315,309,313,310,315,
 311,308,314,318,312,316,311,315,319,313,317,312,316,320,314,311,317,321,315,319,313,317,322,316,320,315,319,316,322,326,318,322,316,320,324,318,322,317,321,325,319,323,316,320,313,297,319,323,317,320,
 316,321,314,318,322,315,319,313,317,321,314,318,312,316,320,314,318,321,315,312,317,320,314,318,311,315,319,313,317,321,314,318,312,316,309,314,318,312,316,310,314,317,311,315,309,313,316,310,314,308,
 312,315,309,313,306,311,314,308,312,305,310,313,307,311,304,309,312,306,303,308,311,305,301,306,309,303,307,301,305,308,302,306,299,304,307,301,298,303,306,300,304,298,302,305]
b_gc = [301,305,299,303,306,300,304,298,302,305,300,303,299,304,307,302,300,305,308,303,306,301,305,309,304,301,307,310,305,308,303,306,310,304,308,305,309,313,307,310,305,309,303,307,311,305,309,312,307,311,
 306,310,313,308,304,309,312,306,310,307,312,315,309,313,308,311,315,309,312,306,310,314,308,312,315,309,313,307,311,315,309,313,310,314,318,312,316,311,315,319,313,309,315,319,313,317,312,316,320,314,
 318,312,316,321,315,319,313,317,322,316,320,314,318,323,317,321,315,319,324,318,322,316,320,325,319,323,317,321,326,319,323,317,321,325,319,323,318,322,328,320,316,322,326,320,324,318,322,316,321,325,
 318,322,316,320,324,318,322,315,319,323,317,321,314,318,322,316,320,314,318,321,315,319,313,317,320,314,318,312,316,319,313,317,311,315,318,312,316,310,314,317,311,315,309,313,316,310,314,308,312,315,
 309,313,307,311,314,308,312,306,310,313,307,303,309,312,306,310,304,308,311,305,309,303,307,310,304,308,302,306,309,303,307,301,305,308,302,298,304,307,301,305,299,303,306,302]
c_gc = [302,305,300,303,307,301,305,299,303,306,301,304,308,303,306,301,305,309,304,307,302,306,310,305,308,303,307,311,306,309,304,308,312,307,310,305,309,313,308,311,306,310,315,309,312,307,311,316,310,313,
 308,312,317,311,314,309,313,318,312,315,310,314,319,313,316,311,315,320,314,317,312,316,321,315,318,313,317,322,316,319,314,318,323,317,320,315,319,324,318,321,316,320,325,319,322,317,321,326,320,323,
 318,322,327,321,324,319,323,328,322,325,320,324,329,323,326,321,325,330,324,319,325,329,323,327,321,325,320,324,328,322,326,320,324,318,323,327,321,325,319,323,317,322,326,320,324,318,322,316,321,325,
 319,323,317,321,315,320,324,318,322,316,320,314,319,323,317,321,315,319,313,318,322,316,320,314,318,312,317,321,315,319,313,317,311,316,320,314,318,312,316,310,315,319,313,317,311,315,309,314,318,312,
 316,310,314,308,313,316,310,314,308,312,306,311,314,308,312,306,310,304,309,312,306,310,304,308,302,307,310,304,308,302,306,300,305,308,302,306,300,304,298,303,306,300,304,302]

# G+C skew trace, read from the orange disc (radius, px)
a_skew = [148,154,140,162,143,137,158,147,170,136,151,160,139,145,164,133,152,141,157,130,148,162,138,143,155,127,150,139,160,134,146,131,153,140,124,148,136,158,129,142,
 133,155,125,139,150,121,144,132,159,128,137,119,147,134,153,123,140,130,162,116,143,127,138,149,114,132,141,156,120,136,148,108,140,152,124,145,131,167,119,138,
 155,128,149,140,172,125,143,159,132,177,138,151,122,164,134,147,130,170,140,155,117,146,132,160,126,139,151,114,136,145,128,157,122,141,133,150,112,137,129,146,
 120,139,152,115,131,143,124,138,110,134,147,119,129,140,113,133,125,144,107,130,138,116,132,122,141,104,127,136,112,129,120,138,102,125,133,110,128,118,140,106,
 123,134,111,130,115,139,104,126,132,109,121,137,100,128,116,133,107,124,142,112,130,119,138,110,127,135,114,132,122,144,111,136,125,151,119,139,130,154,123,142,
 134,159,125,146,137,162,129,149,140,167,132,152,143,126,158,138,164,133,148,172,136,155,142,130,161,146,169,137,154,141,175,133,150,160,139,167,145,156,134,170,
 148,159,138,164,142,153,136,172,147,158,140,166,144,155,134,177,149,138,161,152,183,140,157,145,168,136,174,151,162,141,180,146,158,137,172,150,139,165,154,143,
 170,148,159,140,167,145,155,138,164,149,160,142,172,147,137,162,153,144,168,150,139,160,146,157,141,165,151,142,159,148,163,144,155,140,161,150]
b_skew = [150,140,158,145,164,136,153,142,168,133,149,159,138,146,162,131,154,140,160,128,147,157,135,144,167,125,151,138,158,130,143,154,122,139,148,161,127,137,150,119,
 142,156,124,135,147,117,140,153,129,133,158,114,145,131,139,151,112,136,159,121,143,128,149,118,134,162,110,140,126,147,132,156,107,138,150,122,142,169,116,136,
 153,127,145,160,131,174,120,139,149,125,167,135,153,113,142,130,159,118,137,148,124,162,110,134,145,129,155,116,138,127,150,108,132,143,121,140,113,136,124,147,
 105,131,139,117,128,142,110,134,122,138,102,129,118,140,108,125,133,100,127,115,136,105,121,130,112,138,98,124,132,107,119,135,102,126,114,131,99,123,137,110,
 118,128,104,132,113,125,140,107,120,129,101,135,115,124,108,138,111,127,120,142,106,130,117,136,112,128,122,145,109,133,124,149,116,138,128,154,120,141,132,157,
 124,145,135,162,127,148,138,165,130,150,142,169,133,153,124,160,139,148,173,131,156,143,166,137,150,177,134,159,145,140,168,152,130,163,148,158,138,172,143,155,
 136,170,149,141,161,154,182,139,157,146,167,135,151,175,142,160,138,165,153,145,184,140,156,148,170,137,152,162,143,174,139,158,149,167,136,155,145,172,141,160,
 151,138,168,147,157,142,164,140,153,146,170,137,159,149,142,165,155,139,161,148,144,167,152,141,158,145,163,149,140,160,153,143,162,147,156,142]
c_skew = [165,151,173,146,158,143,167,152,139,161,148,175,141,156,145,170,137,153,162,134,149,142,165,131,147,159,136,143,154,128,150,139,163,125,144,133,157,123,141,152,
 130,137,159,119,145,134,150,124,140,154,116,143,129,148,121,136,157,113,142,127,151,118,133,146,111,139,123,165,115,135,128,144,109,137,121,142,114,131,147,107,
 133,118,141,112,127,138,105,130,119,145,110,124,135,103,128,116,140,108,122,133,101,127,114,138,106,120,132,100,125,112,143,104,119,130,98,124,110,137,102,118,
 129,97,123,109,134,101,116,128,95,122,108,136,99,115,126,93,120,105,132,97,113,125,91,118,103,129,95,111,123,89,117,102,140,94,109,122,99,114,128,96,
 120,107,133,101,115,126,98,123,110,135,104,118,130,100,125,112,139,105,121,132,103,127,115,142,108,123,134,106,129,118,145,111,125,136,109,132,121,147,114,128,
 139,112,134,123,150,117,131,142,115,137,126,153,120,134,145,118,140,129,156,123,137,148,121,143,132,159,126,140,151,124,146,135,161,129,143,154,127,148,138,163,
 132,145,157,130,150,140,165,134,148,159,133,153,142,168,137,151,162,135,155,145,171,139,153,164,138,158,147,173,142,156,167,140,161,150,177,144,159,170,143,163,
 152,180,146,161,172,145,165,154,183,148,163,175,147,167,156,185,150,165,160,152,173,157,148,170,159,151,175,162,154,181,158,167,153,173,161,156]

GENE_BANDS = [(597, 656), (527, 592)]
FEATURE_BANDS = [(462, 522), (399, 457), (333, 392)]


def soften(img, dpi):
    # the source picture is a resampled raster, so everything carries a slight blur
    pad = 6
    arr = np.pad(img, ((pad, pad), (pad, pad), (0, 0)))
    rgb = arr[..., :3] * arr[..., 3:]
    arr = np.dstack([rgb, arr[..., 3]])
    weights = [1, 4, 6, 4, 1]
    for _ in range(2):
        for axis in (0, 1):
            arr = sum(w * np.roll(arr, k, axis=axis) for k, w in zip(range(-2, 3), weights)) / 16
    alpha = arr[..., 3:]
    rgb = np.where(alpha > 0, arr[..., :3] / np.maximum(alpha, 1e-4), 0)
    return np.clip(np.dstack([rgb, alpha]), 0, 1), -pad, -pad


def add_bands(ax, rows, r0, r1):
    for deg, wid, key in rows:
        ax.bar(np.radians(deg), r1 - r0, width=np.radians(wid), bottom=r0, align='edge',
               color=colors[key], linewidth=0)


def draw_map(cx, cy, mb, deg_per_mb, outer, inner, ring3, ring4, ring5, gc, skew):
    S = 820
    ax = fig.add_axes([(cx - S) / W, 1 - (cy + S) / H, 2 * S / W, 2 * S / H], projection='polar')
    ax.set_theta_zero_location('N')
    ax.set_theta_direction(-1)
    ax.set_ylim(0, S)
    ax.set_axis_off()
    ax.patch.set_alpha(0)
    ax.set_agg_filter(soften)

    # discs under the traces
    ax.bar(0, 333 - 210, width=np.radians(END), bottom=210, align='edge', color='#e9d2f4', linewidth=0)
    ax.bar(0, 203 - 66, width=np.radians(END), bottom=66, align='edge', color='#f3cd9f', linewidth=0)
    ax.bar(np.radians(357.7), 333 - 210, width=np.radians(.7), bottom=210, align='edge', color='#efe3f3', linewidth=0)
    ax.bar(np.radians(357.7), 203 - 66, width=np.radians(.7), bottom=66, align='edge', color='#f6e4cd', linewidth=0)

    add_bands(ax, outer, *GENE_BANDS[0])
    add_bands(ax, inner, *GENE_BANDS[1])
    add_bands(ax, [(357.8, .4, 't')], *GENE_BANDS[0])
    add_bands(ax, [(357.8, .4, 't')], *GENE_BANDS[1])
    add_bands(ax, ring3, *FEATURE_BANDS[0])
    add_bands(ax, ring4, *FEATURE_BANDS[1])
    add_bands(ax, ring5, *FEATURE_BANDS[2])

    # outer scale ring with small ticks
    ax.bar(0, 10, width=np.radians(END), bottom=664, align='edge', color='#000080', linewidth=0)
    ax.bar(np.radians(357.7), 10, width=np.radians(.7), bottom=664, align='edge', color='#000080', linewidth=0)
    fine = np.arange(0, END / deg_per_mb, 0.01) * deg_per_mb
    ax.vlines(np.radians(fine), 674, 680, color='#7a86b8', linewidth=.7)
    ax.vlines(np.radians(np.array(mb) * deg_per_mb), 674, 692, color='#8a8a8a', linewidth=.9)

    # traces
    ax.plot(np.radians(np.linspace(0, END, len(gc))), gc, color='#5d4f68', linewidth=1.0)
    ax.plot(np.radians(np.linspace(0, END, len(skew))), skew, color='#0c0804', linewidth=1.3)

    for m in mb:
        deg = m * deg_per_mb
        rot = 90 - deg if deg < 180 else 270 - deg
        ax.text(np.radians(deg), 770, '%.1f' % m, rotation=rot, rotation_mode='anchor', ha='center', va='center',
                fontsize=45, fontweight='bold', color='#111111', clip_on=False,
                path_effects=[pe.withStroke(linewidth=1.6, foreground='#111111')])


fig = plt.figure(figsize=(W / 100, H / 100), dpi=100, facecolor='white')

draw_map(898, 835, a_mb, a_deg_per_mb, a_outer, a_inner, a_ring3, a_ring4, a_ring5, a_gc, a_skew)
draw_map(2959, 825, b_mb, b_deg_per_mb, b_outer, b_inner, b_ring3, b_ring4, b_ring5, b_gc, b_skew)
draw_map(1795, 2392, c_mb, c_deg_per_mb, c_outer, c_inner, c_ring3, c_ring4, c_ring5, c_gc, c_skew)

# panel tags and legend in pixel coordinates
page = fig.add_axes([0, 0, 1, 1])
page.set_xlim(0, W)
page.set_ylim(H, 0)
page.set_axis_off()
page.patch.set_alpha(0)
page.set_agg_filter(soften)
for tag, x, y in [('(A)', 80, 1635), ('(B)', 2135, 1464), ('(C)', 871, 2960)]:
    page.text(x, y, tag, fontsize=66, fontweight='bold', ha='center', va='center', color='#111111',
              path_effects=[pe.withStroke(linewidth=2, foreground='#111111')])

swatch_y = [1900, 1976, 2050, 2125, 2200, 2277, 2351, 2428, 2504, 2580, 2655]
label_y = [1901, 1985, 2059, 2127, 2205, 2287, 2361, 2433, 2506, 2588, 2656]
label_x = [2998, 2998, 2998, 2998, 2998, 2998, 2995, 2995, 2995, 2995, 2995]
for name, key, sy, ly, lx in zip(legend_names, legend_keys, swatch_y, label_y, label_x):
    page.add_patch(Rectangle((2894, sy - 23), 48, 46, color=colors[key], linewidth=0))
    page.text(lx, ly, name, fontsize=36.5, fontweight='bold', ha='left', va='center', color='#151515',
              path_effects=[pe.withStroke(linewidth=1.2, foreground='#151515')])

fig.savefig('out.png', dpi=100)
